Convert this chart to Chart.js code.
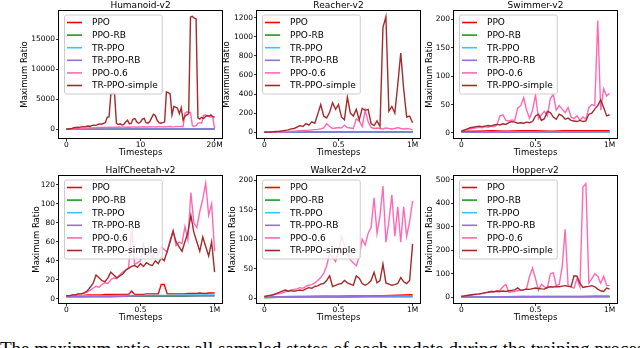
<!DOCTYPE html>
<html>
<head>
<meta charset="utf-8">
<script src="https://cdn.jsdelivr.net/npm/chart.js@4.4.0/dist/chart.umd.min.js"></script>
<style>
  html, body { margin: 0; padding: 0; background: #fff; width: 640px; height: 348px; overflow: hidden; position: relative; }
  canvas { position: absolute; }
  .title { position: absolute; font-family: 'DejaVu Sans'; font-size: 9px; line-height: 10px; color: #000; text-align: center; white-space: nowrap; }
  .caption { position: absolute; left: 0; top: 339px; font-family: 'Liberation Serif'; font-size: 19px; line-height: 19px; color: #000; white-space: nowrap; }
</style>
</head>
<body>
<div class="caption">The maximum ratio over all sampled states of each update during the training process.</div>
<script>
// series, in the order of the legend
const seriesNames = ['PPO', 'PPO-RB', 'TR-PPO', 'TR-PPO-RB', 'PPO-0.6', 'TR-PPO-simple'];
const seriesColors = ['#ff0000', '#1f9a1f', '#33c6ff', '#9370db', '#ff69b4', '#a52a2a'];

// x ticks
const unitXTicks = [0, 0.5, 1];
const unitXLabels = ['0', '0.5', '1M'];
const humanoidXTicks = [0, 10, 20];
const humanoidXLabels = ['0', '10', '20M'];

// y ticks
const humanoidYTicks = [0, 5000, 10000, 15000];
const reacherYTicks = [0, 200, 400, 600, 800, 1000, 1200];
const swimmerYTicks = [0, 50, 100, 150, 200];
const cheetahYTicks = [0, 20, 40, 60, 80, 100, 120];
const walkerYTicks = [0, 50, 100, 150, 200];
const hopperYTicks = [0, 100, 200, 300, 400, 500];

// Humanoid-v2 (0..20M)
const humanoidPPO = [0, 10, 15, 20, 20, 25, 30, 30, 35, 35, 40];
const humanoidPPORB = [0, 5, 10, 10, 15, 15, 20, 20, 20, 25, 25];
const humanoidTRPPO = [0, 10, 20, 25, 30, 35, 40, 45, 50, 50, 55];
const humanoidTRPPORB = [0, 10, 20, 30, 35, 40, 45, 50, 55, 60, 60];
const humanoidPPO06 = [0, 30, 60, 50, 90, 120, 110, 150, 170, 160,
  200, 230, 210, 250, 240, 280, 260, 300, 290, 320,
  310, 340, 300, 330, 360, 320, 350, 330, 370, 340,
  360, 380, 350, 370, 340, 390, 360, 380, 350, 400,
  370, 390, 420, 380, 410, 390, 430, 400, 380, 420,
  440, 410, 390, 430, 450, 420, 460, 430, 410, 450,
  470, 440, 460, 430, 2700, 2900, 2800, 2800, 600, 500,
  600, 1000, 1100, 1000, 2300, 2400, 2200, 2100, 2100, 2000,
  100];
const humanoidSimple = [0, 50, 100, 150, 250, 300, 350, 300, 400, 450,
  400, 500, 550, 500, 650, 700, 650, 800, 900, 850,
  1000, 1100, 2000, 2100, 5900, 6000, 5900, 1000, 800, 900,
  700, 800, 1200, 1500, 900, 1000, 1700, 1800, 1200, 1000,
  1200, 1700, 1800, 1100, 1000, 1300, 1900, 2500, 2300, 1500,
  1100, 1000, 1100, 1200, 6200, 6100, 5900, 2400, 3800, 3700,
  3500, 2600, 3600, 1500, 2200, 2400, 2600, 18700, 18800, 18500,
  18400, 1900, 1700, 2000, 1800, 2100, 2300, 2200, 2400, 2100,
  2000];

// Reacher-v2 (0..1M)
const reacherPPO = [1, 2, 2, 3, 3, 3, 4, 4, 4, 5, 5];
const reacherPPORB = [1, 1, 2, 2, 2, 3, 3, 3, 3, 3, 4];
const reacherTRPPO = [1, 2, 2, 2, 3, 3, 3, 3, 4, 4, 4];
const reacherTRPPORB = [1, 2, 2, 3, 3, 3, 3, 4, 4, 4, 4];
const reacherPPO06 = [0, 0, 1, 1, 2, 3, 4, 6, 8, 10,
  12, 14, 16, 18, 20, 22, 25, 28, 30, 35,
  45, 90, 60, 40, 45, 50, 45, 75, 50, 45,
  40, 140, 120, 60, 230, 110, 50, 40, 45, 40,
  35, 45, 40, 35, 40, 50, 40, 35, 40, 35,
  25];
const reacherSimple = [0, 2, 3, 5, 8, 10, 15, 20, 25, 35,
  40, 55, 70, 60, 90, 75, 110, 95, 190, 290,
  170, 150, 210, 310, 240, 290, 160, 130, 370, 200,
  170, 240, 130, 250, 230, 240, 90, 70, 120, 60,
  1100, 1210, 220, 270, 200, 500, 830, 450, 160, 170,
  100];

// Swimmer-v2
const swimmerPPO = [3, 3, 4, 3, 4, 4, 3, 4, 4, 4, 4];
const swimmerPPORB = [1, 1, 1.5, 1.5, 1.5, 2, 2, 2, 2, 2, 2];
const swimmerTRPPO = [1, 1, 1, 1.5, 1.5, 1.5, 1.5, 2, 2, 2, 2];
const swimmerTRPPORB = [1, 1, 1, 1, 1.5, 1.5, 1.5, 1.5, 1.5, 2, 2];
const swimmerPPO06 = [4, 5, 6, 7, 8, 9, 10, 9, 11, 10,
  12, 11, 14, 30, 32, 22, 21, 23, 22, 44,
  48, 62, 40, 26, 40, 67, 25, 32, 38, 30,
  60, 68, 40, 48, 42, 36, 45, 28, 25, 30,
  22, 28, 24, 45, 50, 48, 198, 40, 78, 65,
  70];
const swimmerSimple = [3, 5, 7, 9, 10, 11, 12, 11, 12, 13,
  12, 14, 15, 14, 16, 15, 18, 20, 19, 17,
  18, 17, 19, 18, 20, 30, 33, 22, 25, 38,
  36, 28, 24, 33, 30, 24, 26, 22, 21, 20,
  22, 20, 21, 33, 35, 42, 48, 58, 45, 30,
  32];

// HalfCheetah-v2
const cheetahPPO = [3, 3, 3, 3, 3.5, 3.5, 3.5, 4, 4, 4,
  4, 4, 4, 4.5, 4.5, 4.5, 4.5, 4.5, 4.5, 4.5,
  4.5, 4.5, 8, 4.5, 4.5, 4.5, 4.5, 5, 5, 5,
  5, 5, 15, 15, 5, 5, 5, 5, 5, 5,
  5, 5.5, 5.5, 5.5, 5.5, 6, 5.5, 5.5, 6, 6,
  6];
const cheetahPPORB = [2, 2, 2, 2, 2.5, 2.5, 2.5, 2.5, 2.5, 3, 3];
const cheetahTRPPO = [2.5, 3, 3, 3, 3.5, 3.5, 3.5, 3.5, 4, 4, 4];
const cheetahTRPPORB = [2, 2, 2.5, 2.5, 2.5, 3, 3, 3, 3, 3, 3];
const cheetahPPO06 = [3, 3, 4, 4, 5, 5, 6, 7, 9, 11,
  13, 12, 15, 17, 16, 20, 22, 21, 25, 28,
  30, 33, 75, 36, 38, 40, 58, 45, 48, 44,
  50, 46, 55, 52, 49, 62, 72, 56, 60, 58,
  76, 62, 112, 80, 75, 92, 105, 122, 88, 100,
  50];
const cheetahSimple = [3, 3, 4, 4, 5, 5, 6, 8, 12, 16,
  25, 22, 19, 18, 22, 28, 25, 22, 24, 26,
  30, 32, 34, 35, 33, 37, 34, 38, 36, 35,
  40, 37, 43, 40, 50, 60, 71, 60, 55, 50,
  60, 70, 88, 70, 60, 50, 65, 55, 45, 60,
  28];

// Walker2d-v2
const walkerPPO = [2, 2.5, 3, 3, 3.5, 3.5, 4, 4, 4.5, 5, 6];
const walkerPPORB = [1, 1.5, 1.5, 2, 2, 2, 2, 2.5, 2.5, 2.5, 2.5];
const walkerTRPPO = [2, 2, 2.5, 2.5, 3, 3, 3, 3, 3.5, 3.5, 3.5];
const walkerTRPPORB = [2, 2.5, 2.5, 3, 3, 3, 3.5, 3.5, 3.5, 4, 4];
const walkerPPO06 = [3, 4, 5, 6, 7, 8, 9, 11, 12, 14,
  15, 16, 18, 17, 20, 22, 23, 26, 30, 35,
  42, 55, 75, 70, 62, 80, 105, 90, 75, 65,
  60, 55, 70, 100, 90, 110, 120, 170, 110, 140,
  190, 95, 130, 175, 105, 155, 95, 155, 105, 130,
  165];
const walkerSimple = [3, 4, 5, 6, 8, 10, 12, 14, 12, 13,
  12, 13, 14, 13, 16, 18, 17, 20, 21, 24,
  25, 30, 38, 20, 22, 24, 25, 30, 26, 24,
  22, 38, 34, 25, 22, 25, 30, 44, 26, 30,
  58, 26, 24, 22, 23, 25, 35, 28, 25, 30,
  92];

// Hopper-v2
const hopperPPO = [2, 3, 3, 3, 3.5, 3.5, 4, 4, 4, 4.5, 4.5];
const hopperPPORB = [1, 1, 1.5, 1.5, 1.5, 2, 2, 2, 2, 2, 2];
const hopperTRPPO = [1.5, 2, 2, 2, 2.5, 2.5, 2.5, 3, 3, 3, 3];
const hopperTRPPORB = [1.5, 2, 2, 2.5, 2.5, 2.5, 3, 3, 3, 3, 3];
const hopperPPO06 = [5, 6, 8, 9, 11, 12, 14, 16, 18, 22,
  25, 24, 28, 30, 45, 55, 22, 24, 26, 28,
  30, 32, 38, 90, 125, 80, 30, 55, 45, 40,
  100, 105, 50, 55, 130, 290, 50, 45, 40, 80,
  45, 470, 485, 60, 80, 100, 90, 60, 90, 50,
  50];
const hopperSimple = [5, 6, 8, 10, 12, 14, 15, 17, 20, 22,
  25, 24, 26, 25, 27, 25, 28, 30, 32, 40,
  30, 32, 35, 34, 37, 40, 38, 36, 35, 42,
  45, 44, 46, 45, 48, 50, 47, 45, 92, 90,
  60, 42, 45, 47, 50, 45, 35, 28, 25, 40,
  35];

// layout of the six panels (plot frame in page pixels)
const panels = [
  { title: 'Humanoid-v2', xEnd: 20, xMin: -1, xMax: 21, xTicks: humanoidXTicks, xLabels: humanoidXLabels,
    yTicks: humanoidYTicks, yMin: -1450, yMax: 19700, yTitleX: 25,
    box: { left: 59, top: 11, width: 163, height: 127 },
    series: [humanoidPPO, humanoidPPORB, humanoidTRPPO, humanoidTRPPORB, humanoidPPO06, humanoidSimple] },
  { title: 'Reacher-v2', xEnd: 1, xMin: -0.05, xMax: 1.05, xTicks: unitXTicks, xLabels: unitXLabels,
    yTicks: reacherYTicks, yMin: -60, yMax: 1270, yTitleX: 227,
    box: { left: 257, top: 11, width: 163, height: 127 },
    series: [reacherPPO, reacherPPORB, reacherTRPPO, reacherTRPPORB, reacherPPO06, reacherSimple] },
  { title: 'Swimmer-v2', xEnd: 1, xMin: -0.05, xMax: 1.05, xTicks: unitXTicks, xLabels: unitXLabels,
    yTicks: swimmerYTicks, yMin: -9, yMax: 215, yTitleX: 430,
    box: { left: 454, top: 11, width: 163, height: 127 },
    series: [swimmerPPO, swimmerPPORB, swimmerTRPPO, swimmerTRPPORB, swimmerPPO06, swimmerSimple] },
  { title: 'HalfCheetah-v2', xEnd: 1, xMin: -0.05, xMax: 1.05, xTicks: unitXTicks, xLabels: unitXLabels,
    yTicks: cheetahYTicks, yMin: -4.6, yMax: 129.5, yTitleX: 37,
    box: { left: 59, top: 176, width: 163, height: 127 },
    series: [cheetahPPO, cheetahPPORB, cheetahTRPPO, cheetahTRPPORB, cheetahPPO06, cheetahSimple] },
  { title: 'Walker2d-v2', xEnd: 1, xMin: -0.05, xMax: 1.05, xTicks: unitXTicks, xLabels: unitXLabels,
    yTicks: walkerYTicks, yMin: -8, yMax: 207, yTitleX: 233,
    box: { left: 257, top: 176, width: 163, height: 127 },
    series: [walkerPPO, walkerPPORB, walkerTRPPO, walkerTRPPORB, walkerPPO06, walkerSimple] },
  { title: 'Hopper-v2', xEnd: 1, xMin: -0.05, xMax: 1.05, xTicks: unitXTicks, xLabels: unitXLabels,
    yTicks: hopperYTicks, yMin: -24, yMax: 517, yTitleX: 430,
    box: { left: 454, top: 176, width: 163, height: 127 },
    series: [hopperPPO, hopperPPORB, hopperTRPPO, hopperTRPPORB, hopperPPO06, hopperSimple] }
];

Chart.defaults.font.family = 'DejaVu Sans';
Chart.defaults.color = '#000';

// black box around the plot area
const framePlugin = {
  id: 'frame',
  afterDatasetsDraw(chart) {
    const a = chart.chartArea, ctx = chart.ctx;
    ctx.save();
    ctx.strokeStyle = '#000';
    ctx.lineWidth = 1;
    ctx.strokeRect(Math.round(a.left) - 0.5, Math.round(a.top) - 0.5,
      Math.round(a.right - a.left) + 1, Math.round(a.bottom - a.top) + 1);
    ctx.restore();
  }
};

// matplotlib-like legend in the upper left corner
const legendPlugin = {
  id: 'innerLegend',
  afterDraw(chart) {
    const a = chart.chartArea, ctx = chart.ctx;
    const sets = chart.data.datasets;
    ctx.save();
    ctx.font = '9px "DejaVu Sans"';
    let tw = 0;
    sets.forEach(ds => { tw = Math.max(tw, ctx.measureText(ds.label).width); });
    const x = a.left + 5, y = a.top + 3.5;
    const w = 28 + tw + 4, h = 79;
    ctx.beginPath();
    ctx.roundRect(x + 0.5, y + 0.5, w, h, 2);
    ctx.fillStyle = 'rgba(255,255,255,0.8)';
    ctx.fill();
    ctx.strokeStyle = '#cccccc';
    ctx.lineWidth = 1;
    ctx.stroke();
    sets.forEach((ds, i) => {
      const cy = y + 8 + i * 12.6;
      ctx.strokeStyle = ds.borderColor;
      ctx.lineWidth = 1.6;
      ctx.beginPath();
      ctx.moveTo(x + 3, cy);
      ctx.lineTo(x + 18, cy);
      ctx.stroke();
      ctx.fillStyle = '#000';
      ctx.textBaseline = 'middle';
      ctx.fillText(ds.label, x + 28, cy + 0.5);
    });
    ctx.restore();
  }
};

function drawPanel(p) {
  const padTop = 8, padRight = 5, xH = 20;
  const yW = Math.round(p.box.left - (p.yTitleX - 5));
  const canvas = document.createElement('canvas');
  canvas.width = yW + p.box.width + padRight;
  canvas.height = padTop + p.box.height + xH;
  canvas.style.left = (p.box.left - yW) + 'px';
  canvas.style.top = (p.box.top - padTop) + 'px';
  document.body.appendChild(canvas);

  const t = document.createElement('div');
  t.className = 'title';
  t.textContent = p.title;
  t.style.left = p.box.left + 'px';
  t.style.width = p.box.width + 'px';
  t.style.top = (p.box.top - 11) + 'px';
  document.body.appendChild(t);

  const datasets = p.series.map((vals, i) => ({
    label: seriesNames[i],
    data: vals.map((v, k) => ({ x: k * p.xEnd / (vals.length - 1), y: v })),
    borderColor: seriesColors[i],
    borderWidth: 1.4,
    pointRadius: 0,
    tension: 0,
    order: seriesNames.length - 1 - i
  }));

  new Chart(canvas, {
    type: 'line',
    data: { datasets },
    plugins: [framePlugin, legendPlugin],
    options: {
      responsive: false,
      animation: false,
      devicePixelRatio: 1,
      layout: { padding: { top: padTop, right: padRight, left: 0, bottom: 0 } },
      plugins: { legend: { display: false }, tooltip: { enabled: false } },
      scales: {
        x: {
          type: 'linear', min: p.xMin, max: p.xMax, bounds: 'data',
          afterBuildTicks: s => { s.ticks = p.xTicks.map(v => ({ value: v })); },
          afterFit: s => { s.height = xH; },
          ticks: { autoSkip: false, maxRotation: 0, padding: 0, font: { size: 7.5 },
            callback: (v, i) => p.xLabels[i] },
          grid: { drawOnChartArea: false, drawTicks: true, tickLength: 3, color: '#000', lineWidth: 0.8 },
          border: { display: false },
          title: { display: true, text: 'Timesteps', padding: 0, font: { size: 8.5, lineHeight: 1.2 } }
        },
        y: {
          type: 'linear', min: p.yMin, max: p.yMax, bounds: 'data',
          afterBuildTicks: s => { s.ticks = p.yTicks.map(v => ({ value: v })); },
          afterFit: s => { s.width = yW; },
          ticks: { autoSkip: false, padding: 1, font: { size: 7.5 }, callback: v => String(v) },
          grid: { drawOnChartArea: false, drawTicks: true, tickLength: 3, color: '#000', lineWidth: 0.8 },
          border: { display: false },
          title: { display: true, text: 'Maximum Ratio', padding: 0, font: { size: 8.5, lineHeight: 1.2 } }
        }
      }
    }
  });
}

panels.forEach(drawPanel);
</script>
</body>
</html>
